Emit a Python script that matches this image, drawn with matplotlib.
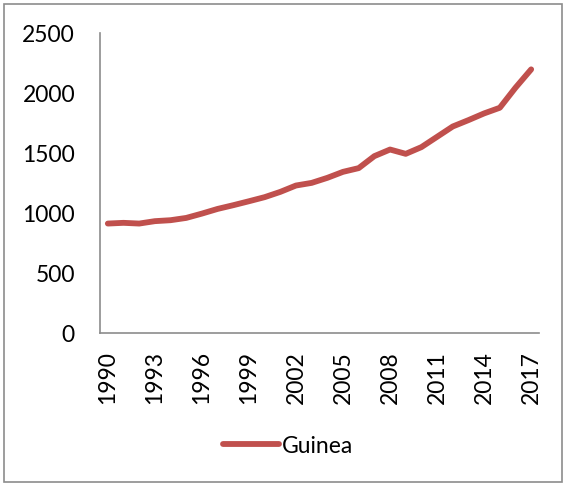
import matplotlib.pyplot as plt
from matplotlib.patches import Rectangle

# GDP per capita, Guinea
years = list(range(1990, 2018))
values = [912, 918, 912, 932, 940, 959, 995, 1034, 1065, 1098,
          1132, 1176, 1229, 1251, 1293, 1343, 1374, 1474, 1529, 1493,
          1549, 1635, 1721, 1774, 1830, 1877, 2044, 2197]
tick_years = years[::3]

plt.rcParams['font.family'] = ['Lato', 'DejaVu Sans']

fig = plt.figure(figsize=(5.66, 4.86), dpi=100)
ax = fig.add_axes([100 / 566, 1 - 333 / 486, 439 / 566, 300 / 486])

pos = list(range(len(years)))
line, = ax.plot(pos, values, color="#C0504D", linewidth=4.2,
                solid_capstyle="round", solid_joinstyle="round")

ax.set_xlim(-0.5, len(years) - 0.5)
ax.set_ylim(0, 2500)
ax.set_yticks(range(0, 2501, 500))
ax.set_xticks([years.index(y) for y in tick_years])
ax.set_xticklabels([str(y) for y in tick_years], rotation=90)
ax.tick_params(length=0, labelsize=16.5)
ax.tick_params(axis="y", pad=18)
ax.tick_params(axis="x", pad=13)

for side in ["top", "right"]:
    ax.spines[side].set_visible(False)
for side in ["left", "bottom"]:
    ax.spines[side].set_color("#8C8C8C")
    ax.spines[side].set_linewidth(1.2)

fig.legend([line], ["Guinea"], loc="center", bbox_to_anchor=(288 / 566, 1 - 446 / 486),
           frameon=False, fontsize=16.5, handlelength=2.45, handletextpad=0.12)

# chart area border
fig.patches.append(Rectangle((4 / 566, 4 / 486), 558 / 566, 478 / 486,
                             transform=fig.transFigure, fill=False,
                             edgecolor="#8C8C8C", linewidth=1.2))

fig.savefig("out.png", dpi=100)
